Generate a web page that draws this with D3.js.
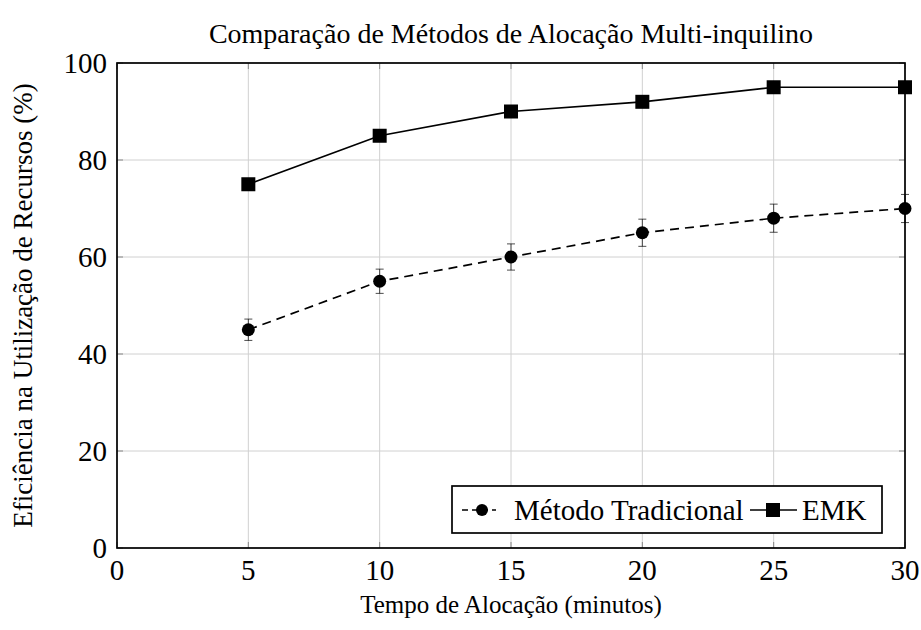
<!DOCTYPE html>
<html lang="pt">
<head>
    <meta charset="UTF-8">
    <title>Comparação de Métodos de Alocação Multi-inquilino</title>
    <script src="https://d3js.org/d3.v7.min.js"></script>
    <style>
        body { margin: 0; background: #fff; }
        svg { display: block; }
        svg text { font-family: "Liberation Serif", "DejaVu Serif", serif; fill: #000; }
        .grid line { stroke: #d0d0d0; stroke-width: 1; }
        .tick-label { font-size: 29px; }
    </style>
</head>
<body>
    <script>
        // Data
        const tempos = [5, 10, 15, 20, 25, 30];
        const tradicional = [45, 55, 60, 65, 68, 70];
        const tradicionalErro = [2.2, 2.5, 2.7, 2.8, 2.9, 2.9];
        const emk = [75, 85, 90, 92, 95, 95];
        const xTicks = [0, 5, 10, 15, 20, 25, 30];
        const yTicks = [0, 20, 40, 60, 80, 100];

        const width = 921;
        const height = 630;
        const margin = { top: 63, right: 16, bottom: 82, left: 117 };
        const plotW = width - margin.left - margin.right;
        const plotH = height - margin.top - margin.bottom;

        const svg = d3.select("body")
            .append("svg")
            .attr("width", width)
            .attr("height", height);

        const x = d3.scaleLinear().domain([0, 30]).range([margin.left, margin.left + plotW]);
        const y = d3.scaleLinear().domain([0, 100]).range([margin.top + plotH, margin.top]);

        // Grid
        const grid = svg.append("g").attr("class", "grid");
        grid.selectAll("line.v")
            .data(xTicks)
            .enter()
            .append("line")
            .attr("x1", d => x(d)).attr("x2", d => x(d))
            .attr("y1", y(0)).attr("y2", y(100));
        grid.selectAll("line.h")
            .data(yTicks)
            .enter()
            .append("line")
            .attr("x1", x(0)).attr("x2", x(30))
            .attr("y1", d => y(d)).attr("y2", d => y(d));

        // Inward ticks on all four sides
        const ticks = svg.append("g").attr("stroke", "#888").attr("stroke-width", 1);
        xTicks.forEach(t => {
            ticks.append("line").attr("x1", x(t)).attr("x2", x(t)).attr("y1", y(0)).attr("y2", y(0) - 6);
            ticks.append("line").attr("x1", x(t)).attr("x2", x(t)).attr("y1", y(100)).attr("y2", y(100) + 6);
        });
        yTicks.forEach(t => {
            ticks.append("line").attr("x1", x(0)).attr("x2", x(0) + 6).attr("y1", y(t)).attr("y2", y(t));
            ticks.append("line").attr("x1", x(30)).attr("x2", x(30) - 6).attr("y1", y(t)).attr("y2", y(t));
        });

        // Tick labels
        svg.append("g").selectAll("text")
            .data(xTicks)
            .enter()
            .append("text")
            .attr("class", "tick-label")
            .attr("x", d => x(d))
            .attr("y", y(0) + 32)
            .attr("text-anchor", "middle")
            .text(d => d);

        svg.append("g").selectAll("text")
            .data(yTicks)
            .enter()
            .append("text")
            .attr("class", "tick-label")
            .attr("x", x(0) - 10)
            .attr("y", d => y(d) + 9.5)
            .attr("text-anchor", "end")
            .text(d => d);

        // Error bars for the traditional method
        const errG = svg.append("g").attr("stroke", "#000").attr("stroke-width", 0.7);
        tempos.forEach((t, i) => {
            const lo = y(tradicional[i] - tradicionalErro[i]);
            const hi = y(tradicional[i] + tradicionalErro[i]);
            errG.append("line").attr("x1", x(t)).attr("x2", x(t)).attr("y1", lo).attr("y2", hi);
            errG.append("line").attr("x1", x(t) - 4).attr("x2", x(t) + 4).attr("y1", lo).attr("y2", lo);
            errG.append("line").attr("x1", x(t) - 4).attr("x2", x(t) + 4).attr("y1", hi).attr("y2", hi);
        });

        const line = d3.line().x(d => x(d[0])).y(d => y(d[1]));

        // Traditional method: dashed line with circles
        svg.append("path")
            .datum(tempos.map((t, i) => [t, tradicional[i]]))
            .attr("d", line)
            .attr("fill", "none")
            .attr("stroke", "#000")
            .attr("stroke-width", 1.7)
            .attr("stroke-dasharray", "9,6");

        svg.append("g").selectAll("circle")
            .data(tempos.map((t, i) => [t, tradicional[i]]))
            .enter()
            .append("circle")
            .attr("cx", d => x(d[0]))
            .attr("cy", d => y(d[1]))
            .attr("r", 6.5)
            .attr("fill", "#000");

        // EMK: solid line with squares
        svg.append("path")
            .datum(tempos.map((t, i) => [t, emk[i]]))
            .attr("d", line)
            .attr("fill", "none")
            .attr("stroke", "#000")
            .attr("stroke-width", 1.7);

        svg.append("g").selectAll("rect")
            .data(tempos.map((t, i) => [t, emk[i]]))
            .enter()
            .append("rect")
            .attr("x", d => x(d[0]) - 7)
            .attr("y", d => y(d[1]) - 7)
            .attr("width", 14)
            .attr("height", 14)
            .attr("fill", "#000");

        // Frame
        svg.append("rect")
            .attr("x", x(0))
            .attr("y", y(100))
            .attr("width", plotW)
            .attr("height", plotH)
            .attr("fill", "none")
            .attr("stroke", "#000")
            .attr("stroke-width", 1.7);

        // Legend
        const legend = svg.append("g");
        legend.append("rect")
            .attr("x", 452).attr("y", 486)
            .attr("width", 430).attr("height", 47)
            .attr("fill", "#fff")
            .attr("stroke", "#000")
            .attr("stroke-width", 1.7);
        const ly = 510;
        legend.append("line")
            .attr("x1", 462).attr("x2", 496).attr("y1", ly).attr("y2", ly)
            .attr("stroke", "#000").attr("stroke-width", 1.7).attr("stroke-dasharray", "6,4");
        legend.append("circle").attr("cx", 482).attr("cy", ly).attr("r", 6).attr("fill", "#000");
        legend.append("text")
            .attr("class", "tick-label")
            .attr("x", 514).attr("y", ly + 10)
            .text("Método Tradicional");
        legend.append("line")
            .attr("x1", 750).attr("x2", 797).attr("y1", ly).attr("y2", ly)
            .attr("stroke", "#000").attr("stroke-width", 1.7);
        legend.append("rect").attr("x", 766).attr("y", ly - 7).attr("width", 14).attr("height", 14).attr("fill", "#000");
        legend.append("text")
            .attr("class", "tick-label")
            .attr("x", 802).attr("y", ly + 10)
            .text("EMK");

        // Titles
        svg.append("text")
            .attr("x", (x(0) + x(30)) / 2)
            .attr("y", 43)
            .attr("text-anchor", "middle")
            .style("font-size", "28px")
            .text("Comparação de Métodos de Alocação Multi-inquilino");

        svg.append("text")
            .attr("x", (x(0) + x(30)) / 2)
            .attr("y", 613)
            .attr("text-anchor", "middle")
            .style("font-size", "25px")
            .text("Tempo de Alocação (minutos)");

        svg.append("text")
            .attr("transform", `translate(32, ${(y(0) + y(100)) / 2}) rotate(-90)`)
            .attr("text-anchor", "middle")
            .style("font-size", "27px")
            .text("Eficiência na Utilização de Recursos (%)");
    </script>
</body>
</html>
